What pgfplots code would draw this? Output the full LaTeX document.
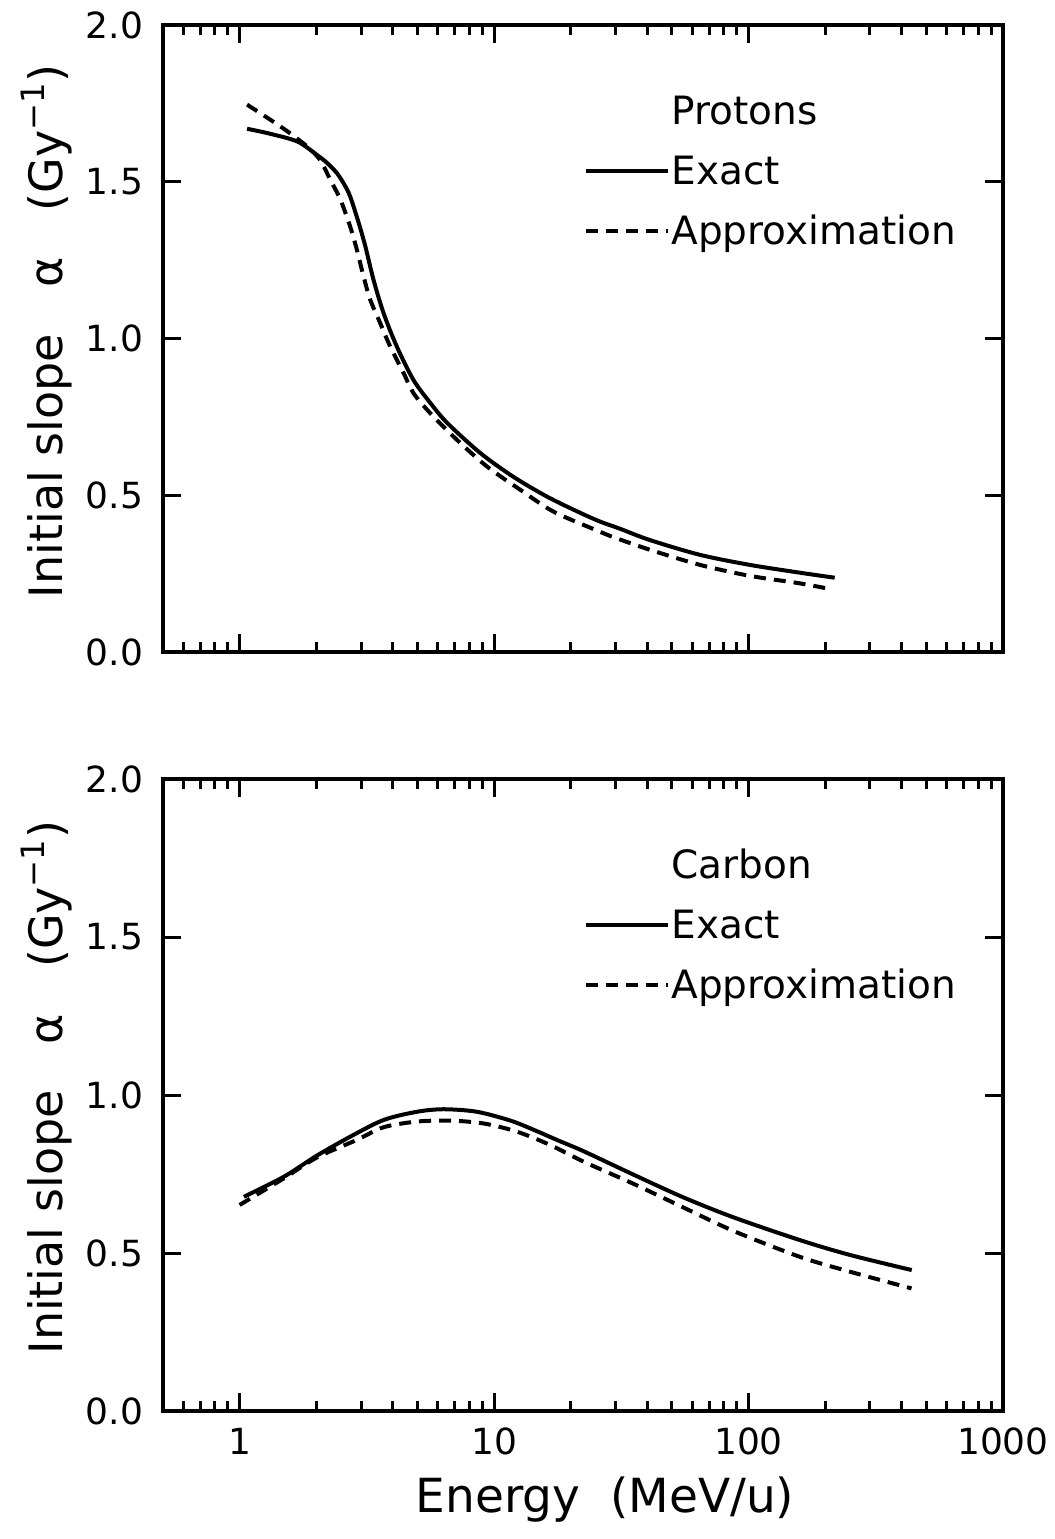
\documentclass[border=0pt]{standalone}
\usepackage{pgfplots}
\pgfplotsset{compat=1.18}
\usepackage{fontspec}
\setmainfont{DejaVu Sans}

\begin{document}
\begin{tikzpicture}
\path[use as bounding box] (-81.5pt,-443.5pt) rectangle (446pt,326pt);

\begin{axis}[at={(0pt,0pt)}, anchor=south west,
    scale only axis, width=420pt, height=313.5pt,
    xmode=log, xmin=0.5, xmax=1000,
    ymin=0, ymax=2,
    xtick={1,10,100,1000},
    minor xtick={0.6,0.7,0.8,0.9,2,3,4,5,6,7,8,9,20,30,40,50,60,70,80,90,200,300,400,500,600,700,800,900},
    ytick={0,0.5,1,1.5,2},
    xticklabels={},
    tick align=inside,
    major tick length=9pt, minor tick length=5pt,
    every tick/.append style={black, line width=1.5pt},
    every minor tick/.append style={black, line width=1.5pt},
    axis line style={line width=2pt},
    /pgf/number format/assume math mode=true,
    tick label style={font=\fontsize{18}{20}\selectfont},
    yticklabel style={/pgf/number format/fixed, /pgf/number format/fixed zerofill, /pgf/number format/precision=1, xshift=-6.5pt},
    ylabel={Initial slope\quad α\quad (Gy\textsuperscript{−1})},
    ylabel style={font=\fontsize{23}{26}\selectfont},
    every axis y label/.append style={at={(ticklabel cs:0.518)}, xshift=-2pt},
    legend style={draw=none, fill=none, at={(0.493,0.90)}, anchor=north west,
      font=\fontsize{19.5}{22}\selectfont, row sep=8.5pt, column sep=0pt,
      nodes={text height=15pt, text depth=4.5pt, inner sep=1pt}},
    legend cell align=left,
    legend image code/.code={\draw[#1] (0pt,1.5pt) -- (41pt,1.5pt);},
  ]
\addlegendimage{empty legend}
\addlegendentry{Protons}
\addplot[black, line width=2pt, smooth] coordinates {
(1.07,1.669)(1.32,1.653)(1.69,1.628)(2.01,1.586)(2.20,1.561)(2.41,1.528)(2.58,1.491)
(2.72,1.453)(2.94,1.368)(3.12,1.294)(3.36,1.187)(3.68,1.081)(4.15,0.974)(4.82,0.868)
(5.61,0.795)(6.54,0.731)(8.82,0.635)(11.9,0.559)(16.2,0.495)(21.8,0.444)(26.1,0.416)
(31.3,0.393)(41.0,0.357)(64.4,0.310)(101,0.278)(159,0.253)(218,0.237)};
\addlegendentry{Exact}
\addplot[black, line width=2pt, smooth, dash pattern=on 6pt off 4pt] coordinates {
(1.07,1.746)(1.32,1.698)(1.54,1.661)(1.84,1.613)(2.07,1.570)(2.27,1.507)(2.49,1.443)
(2.72,1.357)(2.89,1.283)(3.07,1.198)(3.26,1.124)(3.57,1.049)(3.91,0.974)(4.41,0.890)
(4.82,0.826)(5.61,0.762)(7.14,0.677)(9.37,0.592)(12.7,0.517)(17.1,0.448)(24.6,0.392)
(28.6,0.370)(41.0,0.326)(64.4,0.278)(101,0.243)(159,0.219)(212,0.200)};
\addlegendentry{Approximation}
\end{axis}

\begin{axis}[at={(0pt,-379.5pt)}, anchor=south west,
    scale only axis, width=420pt, height=316pt,
    xmode=log, xmin=0.5, xmax=1000,
    ymin=0, ymax=2,
    xtick={1,10,100,1000},
    minor xtick={0.6,0.7,0.8,0.9,2,3,4,5,6,7,8,9,20,30,40,50,60,70,80,90,200,300,400,500,600,700,800,900},
    ytick={0,0.5,1,1.5,2},
    xticklabels={1,10,100,1000},
    xticklabel style={yshift=-5pt},
    tick align=inside,
    major tick length=9pt, minor tick length=5pt,
    every tick/.append style={black, line width=1.5pt},
    every minor tick/.append style={black, line width=1.5pt},
    axis line style={line width=2pt},
    /pgf/number format/assume math mode=true,
    tick label style={font=\fontsize{18}{20}\selectfont},
    yticklabel style={/pgf/number format/fixed, /pgf/number format/fixed zerofill, /pgf/number format/precision=1, xshift=-6.5pt},
    ylabel={Initial slope\quad α\quad (Gy\textsuperscript{−1})},
    ylabel style={font=\fontsize{23}{26}\selectfont},
    every axis y label/.append style={at={(ticklabel cs:0.518)}, xshift=-2pt},
    xlabel={Energy\ \ (MeV/u)},
    xlabel style={font=\fontsize{23.5}{26}\selectfont, yshift=-4pt, xshift=11pt},
    legend style={draw=none, fill=none, at={(0.493,0.90)}, anchor=north west,
      font=\fontsize{19.5}{22}\selectfont, row sep=8.5pt, column sep=0pt,
      nodes={text height=15pt, text depth=4.5pt, inner sep=1pt}},
    legend cell align=left,
    legend image code/.code={\draw[#1] (0pt,1.5pt) -- (41pt,1.5pt);},
  ]
\addlegendimage{empty legend}
\addlegendentry{Carbon}
\addplot[black, line width=2pt, smooth] coordinates {
(1.04,0.678)(1.49,0.741)(2.01,0.808)(2.72,0.868)(3.68,0.921)(4.98,0.947)(6.33,0.955)
(8.56,0.947)(11.6,0.919)(14.3,0.890)(18,0.855)(22.5,0.822)(35.3,0.748)(55.5,0.676)
(87.2,0.613)(159,0.541)(250,0.494)(438,0.446)};
\addlegendentry{Exact}
\addplot[black, line width=2pt, smooth, dash pattern=on 6pt off 4pt] coordinates {
(1.0,0.652)(1.49,0.736)(2.01,0.802)(2.89,0.858)(3.68,0.898)(4.98,0.916)(6.72,0.919)
(9.1,0.910)(12.3,0.884)(16.6,0.842)(22.5,0.789)(35.3,0.719)(55.5,0.644)(87.2,0.570)
(159,0.488)(250,0.441)(437,0.388)};
\addlegendentry{Approximation}
\end{axis}
\end{tikzpicture}
\end{document}
